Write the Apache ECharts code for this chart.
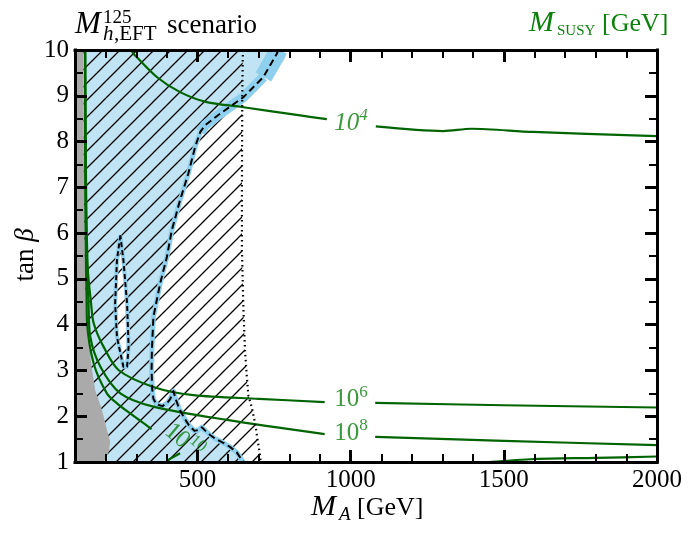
<!DOCTYPE html>
<html>
<head>
<meta charset="utf-8">
<title>Mh125 EFT scenario</title>
<script src="https://cdn.jsdelivr.net/npm/echarts@6/dist/echarts.min.js"></script>
<style>
html,body{margin:0;padding:0;background:#fff;}
#main{width:695px;height:539px;}
</style>
</head>
<body>
<div id="main"></div>
<script>
var serif = '"Liberation Serif", "DejaVu Serif", serif';

// axis ticks
var xRange = [100, 2000];
var yRange = [1, 10];
var xMajor = [500, 1000, 1500, 2000];

// grey region (left)
var greyEdge = [[100,10],[128,10],[129,7],[133,5],[139,4.03],[147,3.5],[155,3.05],[166,2.57],[188,2.14],[204,1.71],[215,1.44],[210,1.22],[199,1.08],[196,1],[100,1]];

// dashed boundary of blue region, (M_A, tan beta)
var dashTop = [[764,10],[759,9.92],[715,9.41],[650,8.97],[574,8.61],[525,8.36],[509,8.21]];
var dashLow = [[509,8.21],[492,7.88],[470,7.30],[443,6.72],[416,6.06],[400,5.48],[378,4.90],[356,4.17],[351,3.44],[350,3.0],[352,2.6],[356,2.38],[366,2.26],[385,2.22],[400,2.28],[411,2.38],[421,2.55],[430,2.35],[440,2.17],[455,1.98],[472,1.80],[490,1.68],[503,1.70],[514,1.76],[526,1.68],[541,1.59],[560,1.50],[584,1.42],[606,1.33],[628,1.21],[644,1.05],[650,1.0]];
// small island
var island = [[248,5.95],[237,5.41],[231,4.46],[237,3.73],[258,3.08],[270,3.08],[275,3.52],[270,4.46],[258,5.41],[248,5.95]];
var islandHole = [[248,5.6],[240,5.1],[237,4.4],[241,3.75],[258,3.2],[266,3.25],[268,3.7],[264,4.5],[255,5.2],[248,5.6]];
// dotted boundary of hatched region
var dotted = [[648,10],[646,8.97],[645,7],[645,5.63],[650,4.3],[655,3.44],[661,2.86],[666,2.45],[677,2.20],[688,1.84],[693,1.62],[704,1.15],[706,1.0]];

// MSUSY contours
var m4a = [[284,10],[291,9.92],[367,9.41],[443,9.08],[530,8.86],[639,8.76],[835,8.57],[922,8.49]];
var m4b = [[1082,8.33],[1302,8.23],[1394,8.28],[1595,8.21],[2000,8.12]];
var m6a = [[133,10],[135,8],[137,6.5],[142,5.2],[152,4.5],[161,4.03],[193,3.52],[242,3.01],[356,2.64],[487,2.46],[700,2.38],[915,2.31]];
var m6b = [[1080,2.29],[1500,2.24],[2000,2.19]];
var m8a = [[133,10],[134,8],[136,6.5],[139,5.2],[144,4.5],[150,3.73],[183,3.08],[248,2.50],[356,2.21],[596,1.92],[915,1.61]];
var m8b = [[1080,1.55],[1500,1.46],[2000,1.37]];
var m10a = [[133,10],[133,8],[134,6.5],[136,5.2],[138,4.5],[139,4.10],[161,3.15],[204,2.50],[237,2.28],[280,2.06],[350,1.72]];
var m10b = [[443,1.19],[400,1.03]];
var mLow = [[1450,1.0],[1600,1.065],[1800,1.09],[2000,1.12]];

// contour labels: [M_A, tan beta, exponent]
var contourLabels = [[1001,8.40,'4'],[1001,2.36,'6'],[1001,1.63,'8'],[455,1.45,'10']];

function makeHatch() {
    var s = 17;
    var c = document.createElement('canvas');
    c.width = s; c.height = s;
    var ctx = c.getContext('2d');
    ctx.strokeStyle = '#000';
    ctx.lineWidth = 1.3;
    ctx.beginPath();
    ctx.moveTo(-2, s + 2); ctx.lineTo(s + 2, -2);
    ctx.moveTo(-2, 2); ctx.lineTo(2, -2);
    ctx.moveTo(s - 2, s + 2); ctx.lineTo(s + 2, s - 2);
    ctx.stroke();
    return c;
}

// polygon or polyline drawn through the cartesian scales, clipped to the grid
function shapeSeries(kind, points, style, z) {
    return {
        type: 'custom',
        coordinateSystem: 'cartesian2d',
        silent: true,
        z: z,
        data: [[points[0][0], points[0][1]]],
        renderItem: function (params, api) {
            var cs = params.coordSys;
            var pts = points.map(function (p) { return api.coord(p); });
            return {
                type: 'group',
                clipPath: { type: 'rect', shape: { x: cs.x, y: cs.y, width: cs.width, height: cs.height } },
                children: [{ type: kind, shape: { points: pts }, style: style }]
            };
        }
    };
}

function lineSeries(data, color, width, type, z, smooth) {
    return {
        type: 'line',
        data: data,
        showSymbol: false,
        silent: true,
        smooth: smooth || false,
        z: z,
        lineStyle: { color: color, width: width, type: type || 'solid', cap: 'butt', join: 'round' }
    };
}

var green = '#006400';
var band = '#8fd0ee';
var blueFill = [[100,1],[100,10]].concat(dashTop, dashLow.slice(1), [[100,1]]);
var hatchPoly = [[100,1],[100,10]].concat(dotted, [[100,1]]);
var dashAll = dashTop.concat(dashLow.slice(1));

var series = [];
series.push(shapeSeries('polygon', blueFill, { fill: '#c0e4f3' }, 1));
series.push(shapeSeries('polygon', islandHole, { fill: '#ffffff' }, 2));
series.push(shapeSeries('polygon', hatchPoly, { fill: { image: makeHatch(), repeat: 'repeat' } }, 3));
series.push(shapeSeries('polyline', dashTop.slice(0, 3), { stroke: band, fill: null, lineWidth: 18, lineJoin: 'round' }, 4));
series.push(shapeSeries('polyline', dashTop.slice(2), { stroke: band, fill: null, lineWidth: 10, lineJoin: 'round' }, 4));
series.push(shapeSeries('polyline', dashLow, { stroke: band, fill: null, lineWidth: 5, lineJoin: 'round' }, 4));
series.push(shapeSeries('polyline', island, { stroke: band, fill: null, lineWidth: 4, lineJoin: 'round' }, 4));
series.push(shapeSeries('polygon', greyEdge, { fill: '#aaaaaa' }, 5));
[m4a, m4b, m6a, m6b, m8a, m8b, m10a, m10b, mLow].forEach(function (d) {
    series.push(lineSeries(d, green, 2.2, 'solid', 6, 0.3));
});
series.push(lineSeries(dashAll, '#000', 2, [7, 4], 7));
series.push(lineSeries(island, '#000', 2, [5, 3], 7));
series.push(lineSeries(dotted, '#000', 2.2, [1.5, 3.5], 7));
series.push({
    type: 'scatter',
    symbolSize: 0,
    silent: true,
    z: 8,
    data: contourLabels.map(function (l, i) {
        var st = i === 0 ? 'italic' : 'normal';
        return {
            value: [l[0], l[1]],
            label: {
                rotate: l[2] === '10' ? -40 : 0,
                rich: {
                    a: { fontSize: 25, fontFamily: serif, color: '#0c800c', lineHeight: 32, fontStyle: st },
                    b: { fontSize: 17, fontFamily: serif, color: '#0c800c', lineHeight: 18, verticalAlign: 'top', fontStyle: st }
                }
            }
        };
    }),
    label: {
        show: true,
        position: 'inside',
        formatter: function (p) { return '{a|10}{b|' + contourLabels[p.dataIndex][2] + '}'; }
    }
});

function baseX(pos, major) {
    return {
        type: 'value', position: pos, min: xRange[0], max: xRange[1], z: 10,
        interval: 100,
        axisLine: { show: !major, onZero: false, lineStyle: { color: '#000', width: 3, cap: 'square' } },
        axisTick: major ? { show: true, inside: true, length: 12, customValues: xMajor, lineStyle: { color: '#000', width: 3 } }
                        : { show: true, inside: true, length: 8, lineStyle: { color: '#000', width: 2 } },
        axisLabel: { show: false },
        splitLine: { show: false }
    };
}
var xAxes = [baseX('bottom', false), baseX('bottom', true), baseX('top', false), baseX('top', true)];
xAxes[0].axisLabel = {
    show: true, customValues: xMajor, margin: 6,
    fontSize: 25, fontFamily: serif, color: '#000',
    formatter: function (v) { return String(v); }
};

function baseY(pos) {
    return {
        type: 'value', position: pos, min: yRange[0], max: yRange[1], interval: 1, z: 10,
        axisLine: { show: true, onZero: false, lineStyle: { color: '#000', width: 3, cap: 'square' } },
        axisTick: { show: true, inside: true, length: 12, lineStyle: { color: '#000', width: 3 } },
        minorTick: { show: true, splitNumber: 2, length: 8, lineStyle: { color: '#000', width: 2 } },
        axisLabel: { show: false },
        splitLine: { show: false }, minorSplitLine: { show: false }
    };
}
var yAxes = [baseY('left'), baseY('right')];
yAxes[0].axisLabel = { show: true, margin: 6, fontSize: 25, fontFamily: serif, color: '#000' };

function txt(s, x, y, size, opts) {
    opts = opts || {};
    return {
        type: 'text', x: x, y: y, z: 20, rotation: opts.rot || 0,
        style: {
            text: s, fontSize: size, fontFamily: serif,
            fontStyle: opts.italic ? 'italic' : 'normal',
            fill: opts.color || '#000',
            align: opts.align || 'left', verticalAlign: 'middle',
            rich: opts.rich
        }
    };
}
var gcol = '#0c800c';
var graphics = [
    txt('M', 75, 25, 31, { italic: true }),
    txt('125', 103, 18, 19),
    txt('h', 103, 34, 21, { italic: true }),
    txt(',EFT', 114, 34, 21),
    txt('scenario', 167, 26, 27),
    txt('M', 529, 23, 30, { italic: true, color: gcol }),
    txt('SUSY', 557, 31, 15, { color: gcol }),
    txt('[GeV]', 602, 24, 26, { color: gcol }),
    txt('M', 311, 507, 30, { italic: true }),
    txt('A', 339, 515, 19, { italic: true }),
    txt('[GeV]', 357, 508, 26),
    txt('{a|tan }{b|β}', 26, 255, 27, { align: 'center', rot: Math.PI / 2,
        rich: { a: { fontSize: 27, fontFamily: serif, color: '#000' },
                b: { fontSize: 27, fontFamily: serif, fontStyle: 'italic', color: '#000' } } })
];

var chart = echarts.init(document.getElementById('main'), null, { renderer: 'canvas' });
chart.setOption({
    animation: false,
    backgroundColor: '#fff',
    grid: { left: 75, right: 38, top: 50, bottom: 77, containLabel: false },
    xAxis: xAxes,
    yAxis: yAxes,
    series: series,
    graphic: graphics
});
</script>
</body>
</html>
